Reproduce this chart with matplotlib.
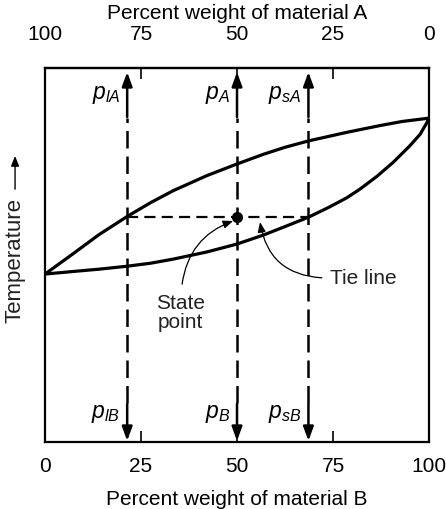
"""
Binary phase diagram with tie line and lever-rule compositions.
"""

import matplotlib.pyplot as plt

plt.rcParams["font.family"] = ["Liberation Sans", "DejaVu Sans"]
plt.rcParams["mathtext.fontset"] = "custom"
plt.rcParams["mathtext.it"] = "Liberation Sans:italic"
plt.rcParams["mathtext.rm"] = "Liberation Sans"

# values: percent weight of B vs temperature (0-100 scale)
liquidus_b = [0, 7.4, 14.0, 21.4, 27.5, 33.4, 42.1, 49.9, 56.8, 62.5, 68.6,
              78.6, 87.2, 93.0, 100]
liquidus_t = [44.9, 50.4, 55.4, 60.3, 64.0, 67.2, 71.2, 74.3, 76.9, 78.8, 80.5,
              82.8, 84.6, 85.7, 86.6]
solidus_b = [0, 7.4, 14.0, 21.4, 27.5, 33.4, 42.1, 49.9, 56.8, 62.5, 68.6,
             74.0, 78.6, 82.0, 86.4, 90.7, 95.1, 97.7, 99.4, 100]
solidus_t = [44.9, 45.6, 46.2, 47.0, 47.8, 48.9, 50.8, 52.9, 55.3, 57.6, 60.1,
             62.8, 65.3, 67.6, 71.0, 74.8, 79.3, 82.3, 85.3, 86.6]

tie_t = 60.2
comp_liquid = 21.4
comp_state = 50
comp_solid = 68.6

b_ticks = [0, 25, 50, 75, 100]
top_labels = [r"$p_{lA}$", r"$p_{A}$", r"$p_{sA}$"]
bottom_labels = [r"$p_{lB}$", r"$p_{B}$", r"$p_{sB}$"]

FS = 15

fig = plt.figure(figsize=(4.46, 5.10), dpi=100)
ax = fig.add_axes([0.1009, 0.1314, 0.861, 0.7333])

ax.plot(liquidus_b, liquidus_t, color="black", lw=2.3, solid_joinstyle="round")
ax.plot(solidus_b, solidus_t, color="black", lw=2.3, solid_joinstyle="round")

# tie line and state point
ax.plot([comp_liquid, comp_solid], [tie_t, tie_t], color="black", lw=1.6,
        ls=(0, (5, 2.8)))
ax.plot(comp_state, tie_t, "o", color="black", ms=7)

# vertical composition lines with arrows at both ends
head = "-|>,head_length=0.6,head_width=0.22"
for b, lab_top, lab_bot in zip([comp_liquid, comp_state, comp_solid],
                               top_labels, bottom_labels):
    ax.plot([b, b], [10.5, 86.5], color="black", lw=1.8, ls=(0, (7, 3.2)))
    ax.annotate("", xy=(b, 98.9), xytext=(b, 86.9),
                arrowprops=dict(arrowstyle=head, color="black", lw=1.8,
                                mutation_scale=14, shrinkA=0, shrinkB=0))
    ax.annotate("", xy=(b, 0.3), xytext=(b, 10.2),
                arrowprops=dict(arrowstyle=head, color="black", lw=1.8,
                                mutation_scale=14, shrinkA=0, shrinkB=0))
    ax.text(b - 1.8, 93.3, lab_top, ha="right", va="center", fontsize=16.5)
    ax.text(b - 1.8, 7.8, lab_bot, ha="right", va="center", fontsize=16.5)

# callouts
thin = "-|>,head_length=0.5,head_width=0.2"
ax.text(35.2, 34.8, "State\npoint", ha="center", va="center", fontsize=FS,
        linespacing=1.0, color="#222222")
ax.annotate("", xy=(49.0, 59.1), xytext=(35.7, 42.2),
            arrowprops=dict(arrowstyle=thin, color="black", lw=0.9,
                            mutation_scale=12, shrinkA=0, shrinkB=0,
                            connectionstyle="arc3,rad=-0.3"))
ax.text(74.2, 43.9, "Tie line", ha="left", va="center", fontsize=FS,
        color="#222222")
ax.annotate("", xy=(56.0, 58.8), xytext=(72.1, 43.9),
            arrowprops=dict(arrowstyle=thin, color="black", lw=0.9,
                            mutation_scale=12, shrinkA=0, shrinkB=0,
                            connectionstyle="arc3,rad=-0.4"))

# temperature label with arrow
ax.text(-0.078, 0.487, "Temperature", transform=ax.transAxes, rotation=90,
        ha="center", va="center", fontsize=16, color="#222222")
ax.annotate("", xy=(-0.078, 0.765), xytext=(-0.078, 0.676),
            xycoords="axes fraction", textcoords="axes fraction",
            arrowprops=dict(arrowstyle=thin, color="black", lw=1.0,
                            mutation_scale=12, shrinkA=0, shrinkB=0))

ax.set_xlim(0, 100)
ax.set_ylim(0, 100)
ax.set_yticks([])
ax.set_xticks(b_ticks)
ax.set_xticklabels([str(v) for v in b_ticks])
ax.tick_params(axis="x", direction="in", length=8, width=1.2, pad=10,
               labelsize=FS)
ax.set_xlabel("Percent weight of material B", fontsize=FS, labelpad=10)
for sp in ax.spines.values():
    sp.set_linewidth(1.6)

top = ax.secondary_xaxis("top", functions=(lambda b: 100 - b, lambda a: 100 - a))
top.set_xticks([100, 75, 50, 25, 0])
top.set_xticklabels(["100", "75", "50", "25", "0"])
top.tick_params(direction="in", length=8, width=1.2, pad=18, labelsize=FS)
top.spines["top"].set_linewidth(1.6)
top.set_xlabel("Percent weight of material A", fontsize=FS, labelpad=4)

fig.savefig("out.png", dpi=100)
